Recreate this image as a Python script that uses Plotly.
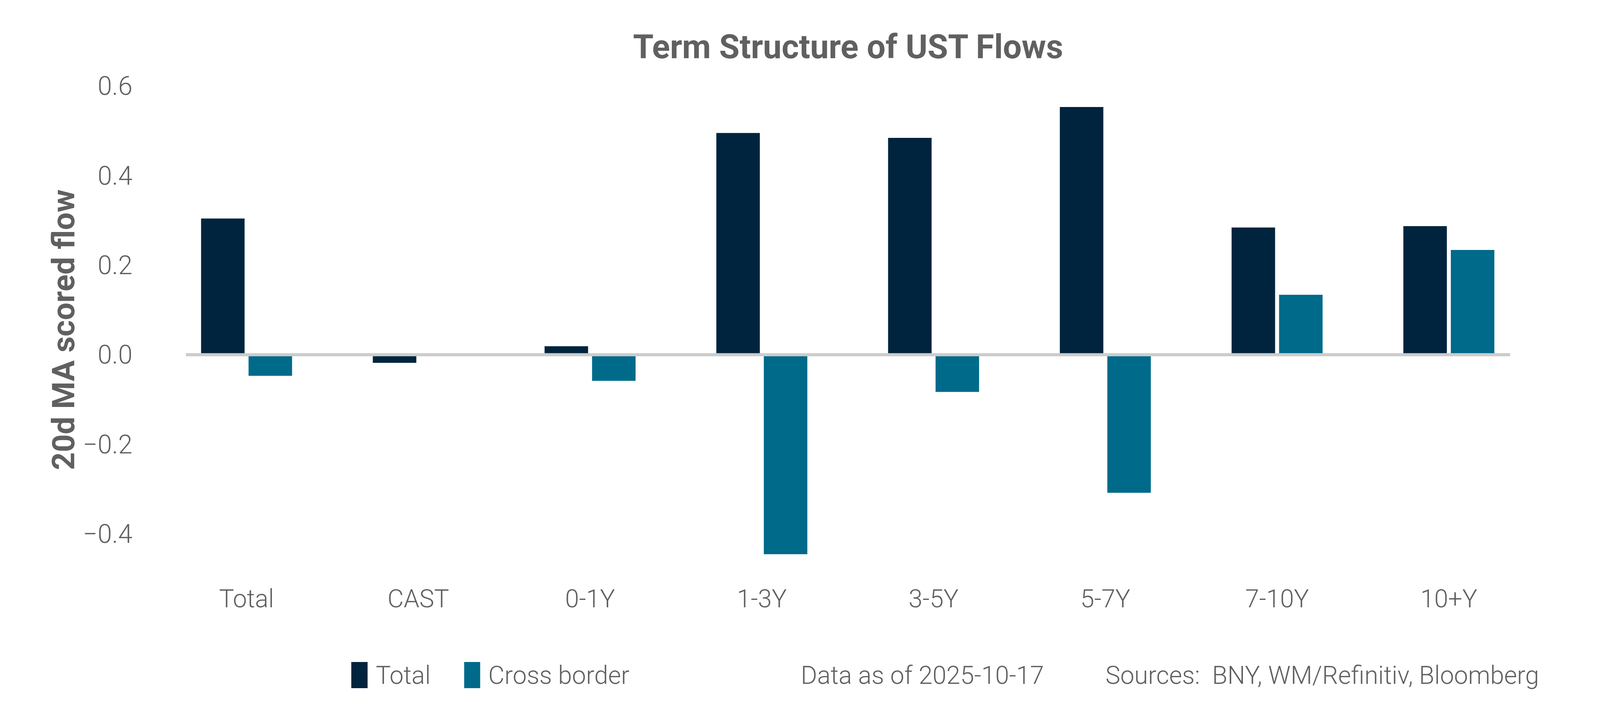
import plotly.graph_objects as go

# data
categories = ["Total", "CAST", "0-1Y", "1-3Y", "3-5Y", "5-7Y", "7-10Y", "10+Y"]
total_flow = [0.304, -0.018, 0.019, 0.495, 0.484, 0.553, 0.284, 0.287]
cross_border_flow = [-0.047, None, -0.058, -0.445, -0.083, -0.308, 0.134, 0.234]
y_ticks = [-0.4, -0.2, 0.0, 0.2, 0.4, 0.6]

series_names = ["Total", "Cross border"]
series_colors = ["#00243d", "#006a8a"]

title_text = "<b>Term Structure of UST Flows</b>"
y_title = "<b>20d MA scored flow</b>"
data_note = "Data as of 2025-10-17"
source_note = "Sources:\u00a0 BNY, WM/Refinitiv, Bloomberg"

# the browser view is 4096 px wide, so the 5400 px layout is squeezed to fit it
W, H = 4080, 1784
REF_W, VIEW_W, BODY = 5400, 4096, 8
GRAY = "#606060"
FONT = "Roboto"
TXT = 64


def fx(ref_px):
    return ref_px * VIEW_W / REF_W - BODY


def fy(ref_py):
    return ref_py - BODY


L = fx(628)
R = W - fx(5097)
T = fy(220)
B = H - fy(1482)


def px_x(ref_px):
    # reference pixel -> paper x
    return (fx(ref_px) - L) / (W - L - R)


def px_y(ref_py):
    # reference pixel -> paper y
    return (H - B - fy(ref_py)) / (H - T - B)


fig = go.Figure()

fig.add_trace(go.Bar(x=categories, y=total_flow, name=series_names[0],
        marker=dict(color=series_colors[0], line=dict(width=0))))
fig.add_trace(go.Bar(x=categories, y=cross_border_flow, name=series_names[1],
        marker=dict(color=series_colors[1], line=dict(width=0))))

fig.update_layout(
    width=W, height=H,
    margin=dict(l=L, r=R, t=T, b=B, autoexpand=False),
    paper_bgcolor="white", plot_bgcolor="white",
    barmode="group", bargap=0.447, bargroupgap=0.084,
    showlegend=False,
    font=dict(family=FONT, size=TXT, color=GRAY),
    title=dict(text=title_text, x=0.5, xref="paper", xanchor="center",
            y=1 - fy(119) / H, yref="container", yanchor="middle",
            font=dict(family=FONT, size=85, color=GRAY)),
)

fig.update_xaxes(range=[-0.353, 7.357], showgrid=False, showline=False,
        zeroline=False, ticks="", ticklabelstandoff=8,
        tickfont=dict(family=FONT, size=TXT, color=GRAY, weight=300))
fig.update_yaxes(range=[-0.5, 0.6], tickvals=y_ticks, tickformat=".1f",
        showgrid=False, showline=False, zeroline=False, ticks="",
        ticklabelstandoff=136,
        tickfont=dict(family=FONT, size=TXT + 2, color=GRAY, weight=300))

# zero line on top of the bars
fig.add_shape(type="line", xref="paper", yref="y", x0=0, x1=1, y0=0, y1=0,
        line=dict(color="#cccccc", width=8), layer="above")

# y axis title
fig.add_annotation(text=y_title, textangle=-90, xref="paper", yref="paper",
        x=px_x(215), y=px_y(844), xanchor="center", yanchor="middle",
        showarrow=False, font=dict(family=FONT, size=80, color=GRAY))

# legend drawn by hand so the swatches keep their size
swatches = [(1186, 1241), (1567, 1621)]
label_left = [1266, 1646]
for name, color, (sx0, sx1), lx in zip(series_names, series_colors, swatches, label_left):
    fig.add_shape(type="rect", xref="paper", yref="paper",
            x0=px_x(sx0), x1=px_x(sx1), y0=px_y(1762), y1=px_y(1695),
            fillcolor=color, line=dict(width=0))
    fig.add_annotation(text=name, xref="paper", yref="paper", x=px_x(lx),
            y=px_y(1729), xanchor="left", yanchor="middle", showarrow=False,
            font=dict(family=FONT, size=TXT, color=GRAY, weight=300))

fig.add_annotation(text=data_note, xref="paper", yref="paper", x=px_x(2700),
        y=px_y(1729), xanchor="left", yanchor="middle", showarrow=False,
        font=dict(family=FONT, size=TXT, color=GRAY, weight=300))
fig.add_annotation(text=source_note, xref="paper", yref="paper", x=px_x(3728),
        y=px_y(1729), xanchor="left", yanchor="middle", showarrow=False,
        font=dict(family=FONT, size=TXT, color=GRAY, weight=300))

fig.write_html("out.html")
